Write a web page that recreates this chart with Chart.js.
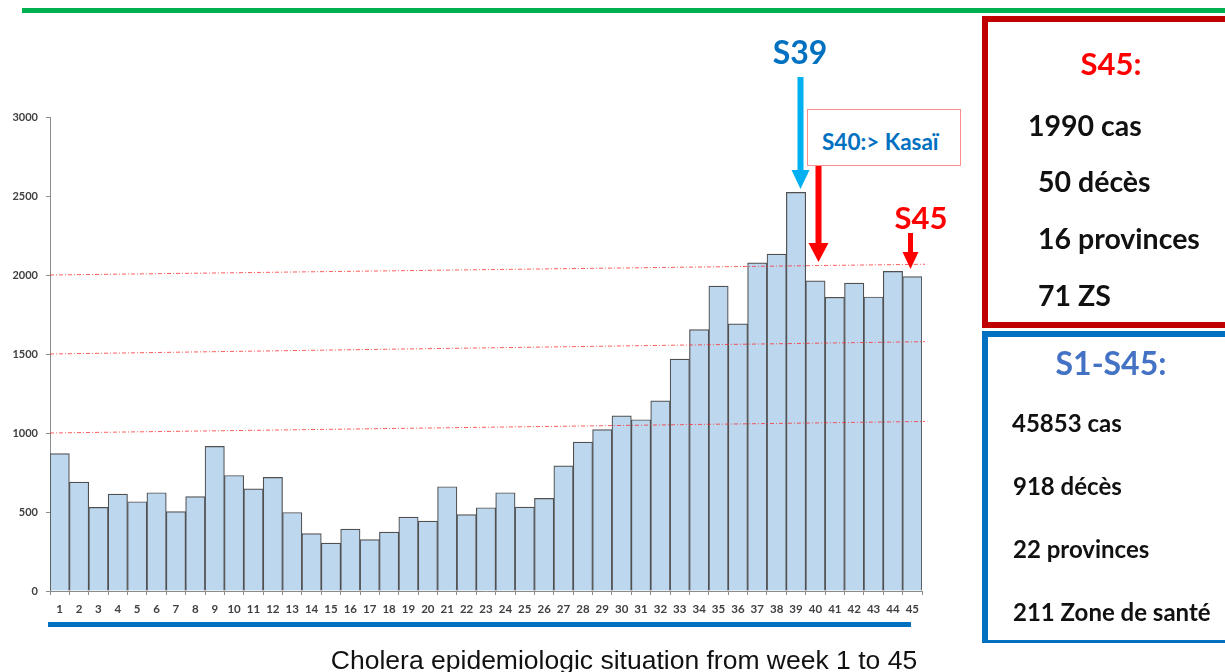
<!DOCTYPE html>
<html>
<head>
<meta charset="utf-8">
<script src="https://cdn.jsdelivr.net/npm/chart.js@4.4.1/dist/chart.umd.min.js"></script>
<style>
  html, body { margin:0; padding:0; background:#fff; }
  #wrap { position:relative; width:1225px; height:672px; overflow:hidden; background:#fff; }
  #c { position:absolute; left:0; top:0; }
  .t { position:absolute; white-space:nowrap; font-family:Lato, "Open Sans", sans-serif; font-weight:bold; line-height:1; }
  .c { transform:translate(-50%,-50%); }
  .l { transform:translate(0,-50%); }
  #green { position:absolute; left:22px; top:8px; width:1210px; height:5px; background:#00B050; }
  #redbox { position:absolute; left:982px; top:16px; width:300px; height:312px; box-sizing:border-box; border:6px solid #C00000; }
  #bluebox { position:absolute; left:982px; top:331px; width:300px; height:312px; box-sizing:border-box; border:6px solid #0070C0; border-bottom-width:3px; }
  #kbox { position:absolute; left:807px; top:109px; width:154px; height:57px; box-sizing:border-box; border:1.5px solid #FF8F8F; background:#fff; }
  #bline { position:absolute; left:48px; top:622px; width:863px; height:5px; background:#0070C0; }
</style>
</head>
<body>
<div id="wrap">
  <canvas id="c" width="1225" height="672"></canvas>
  <div id="green"></div>
  <div id="redbox"></div>
  <div id="bluebox"></div>
  <div id="kbox"></div>
  <div id="bline"></div>
  <div class="t c" style="left:800px;top:52px;font-size:32px;color:#0070C0;">S39</div>
  <div class="t l" style="left:822px;top:142px;font-size:22.5px;color:#0070C0;">S40:&gt; Kasaï</div>
  <div class="t c" style="left:921px;top:217px;font-size:31px;color:#FF0000;">S45</div>

  <div class="t c" style="left:1111px;top:63px;font-size:31px;color:#FF0000;">S45:</div>
  <div class="t l" style="left:1028px;top:125px;font-size:28.5px;color:#111;">1990 cas</div>
  <div class="t l" style="left:1038px;top:181px;font-size:28.5px;color:#111;">50 décès</div>
  <div class="t l" style="left:1038px;top:238px;font-size:28.5px;color:#111;">16 provinces</div>
  <div class="t l" style="left:1038px;top:295px;font-size:28.5px;color:#111;">71 ZS</div>

  <div class="t c" style="left:1111px;top:363px;font-size:32px;color:#4472C4;">S1-S45:</div>
  <div class="t l" style="left:1012px;top:423px;font-size:24px;color:#111;">45853 cas</div>
  <div class="t l" style="left:1013px;top:486px;font-size:24px;color:#111;">918 décès</div>
  <div class="t l" style="left:1013px;top:549px;font-size:24px;color:#111;">22 provinces</div>
  <div class="t l" style="left:1013px;top:612px;font-size:24px;color:#111;">211 Zone de santé</div>

  <div style="position:absolute;left:624px;top:660px;transform:translate(-50%,-50%);font-family:'Liberation Sans',Arial,sans-serif;font-size:26.5px;color:#111;white-space:nowrap;line-height:1;">Cholera epidemiologic situation from week 1 to 45</div>
</div>
<script>
// ---- data ----
const weeks = ['1','2','3','4','5','6','7','8','9','10','11','12','13','14','15','16','17','18','19','20','21','22','23','24','25','26','27','28','29','30','31','32','33','34','35','36','37','38','39','40','41','42','43','44','45'];
const cases = [870, 689, 529, 613, 565, 622, 502, 598, 915, 731, 647, 719, 497, 363, 303, 392, 325, 373, 468, 443, 660, 483, 527, 622, 531, 586, 792, 942, 1022, 1108, 1084, 1204, 1468, 1655, 1930, 1691, 2077, 2132, 2523, 1963, 1859, 1949, 1861, 2023, 1990];
const yTicks = [0, 500, 1000, 1500, 2000, 2500, 3000];
const refStart = [1000, 1500, 2000];
const refEnd = [1073, 1578, 2068];

function arrow(ctx, x, y0, y1, shaftW, headW, headH, color) {
  ctx.save();
  ctx.fillStyle = color;
  ctx.fillRect(x - shaftW/2, y0, shaftW, (y1 - headH) - y0 + 1);
  ctx.beginPath();
  ctx.moveTo(x - headW/2, y1 - headH);
  ctx.lineTo(x + headW/2, y1 - headH);
  ctx.lineTo(x, y1);
  ctx.closePath();
  ctx.fill();
  ctx.restore();
}

const annot = {
  id: 'annot',
  afterDatasetsDraw(chart) {
    const ctx = chart.ctx, ys = chart.scales.y, a = chart.chartArea;
    ctx.save();
    ctx.strokeStyle = 'rgba(255,40,40,0.75)';
    ctx.lineWidth = 1;
    ctx.setLineDash([4, 2, 1, 2]);
    for (let i = 0; i < refStart.length; i++) {
      ctx.beginPath();
      ctx.moveTo(a.left, ys.getPixelForValue(refStart[i]));
      ctx.lineTo(a.right + 3, ys.getPixelForValue(refEnd[i]));
      ctx.stroke();
    }
    ctx.restore();
  },
  afterDraw(chart) {
    const ctx = chart.ctx;
    arrow(ctx, 800.5, 77, 189, 6, 18, 19, '#00B0F0');
    arrow(ctx, 818.5, 166, 262, 6, 20, 19, '#FF0000');
    arrow(ctx, 910.5, 233, 269, 5, 16, 17, '#FF0000');
  }
};

new Chart(document.getElementById('c'), {
  type: 'bar',
  data: {
    labels: weeks,
    datasets: [{
      data: cases,
      backgroundColor: '#BDD7EE',
      borderColor: '#505050',
      borderWidth: 1.2,
      barPercentage: 1,
      categoryPercentage: 1
    }]
  },
  options: {
    responsive: false,
    animation: false,
    devicePixelRatio: 1,
    layout: { padding: { top: 117, right: 303, bottom: 0, left: 0 } },
    plugins: { legend: { display: false }, tooltip: { enabled: false } },
    scales: {
      x: {
        offset: true,
        grid: { offset: true, drawOnChartArea: false, drawTicks: true, tickLength: 4, color: '#8c8c8c' },
        border: { color: '#8c8c8c', width: 1 },
        ticks: { autoSkip: false, maxRotation: 0, padding: 7, color: '#404040', font: { family: 'Lato', weight: 'bold', size: 11.5 } },
        afterFit: s => { s.height = 81; }
      },
      y: {
        min: 0, max: 3000,
        afterBuildTicks: s => { s.ticks = yTicks.map(v => ({ value: v })); },
        grid: { drawOnChartArea: false, drawTicks: true, tickLength: 4, color: '#8c8c8c' },
        border: { color: '#8c8c8c', width: 1 },
        ticks: { padding: 8, color: '#404040', font: { family: 'Lato', weight: 'bold', size: 11 }, callback: v => String(v) },
        afterFit: s => { s.width = 50; }
      }
    }
  },
  plugins: [annot]
});
</script>
</body>
</html>
